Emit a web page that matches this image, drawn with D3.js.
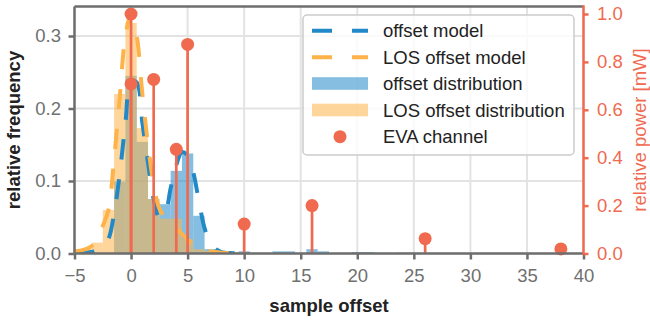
<!DOCTYPE html>
<html><head><meta charset="utf-8">
<script src="https://cdn.jsdelivr.net/npm/d3@7"></script>
<style>body{margin:0;background:#fff} svg{display:block;font-family:"Liberation Sans",Arial,sans-serif}</style>
</head><body><svg id="c" width="650" height="320"></svg>
<script>
// ---- data ----
const xTicks = [-5,0,5,10,15,20,25,30,35,40];
const yTicksLeft = [0,0.1,0.2,0.3];
const yTicksRight = [0,0.2,0.4,0.6,0.8,1.0];

const offsetBins = [-1,0,1,2,3,4,5,6,7,8,9,10,13,14,16,17,20,21,24,25];
const offsetFreq = [0.099,0.245,0.154,0.075,0.068,0.114,0.138,0.052,0.006,0.002,0.001,0.003,0.003,0.003,0.006,0.003,0.002,0.002,0.001,0.001];
const losBins = [-5,-4,-3,-2,-1,0,1,2,3,4,5,6,7,8,9];
const losFreq = [0.006,0.006,0.015,0.06,0.22,0.318,0.173,0.075,0.048,0.048,0.02,0.006,0.004,0.003,0.002];

const modelX      = [-5,-4.5,-4,-3.5,-3,-2.5,-2,-1.5,-1,-0.5,0,0.5,1,1.5,2,2.5,3,3.5,4,4.5,5,5.5,6,6.5,7,7.5,8,9,10];
const offsetModel = [0.0002,0.0005,0.001,0.002,0.005,0.01,0.02,0.055,0.11,0.18,0.238,0.236,0.18,0.125,0.075,0.05,0.055,0.09,0.122,0.14,0.135,0.112,0.072,0.035,0.015,0.006,0.002,0.0005,0];
const losModel    = [0.003,0.004,0.006,0.01,0.019,0.038,0.06,0.13,0.215,0.3,0.33,0.3,0.22,0.15,0.095,0.062,0.05,0.043,0.035,0.027,0.019,0.012,0.007,0.004,0.003,0.002,0.001,0.0005,0];

const evaX = [0,0,2,4,5,10,16,26,38];
const evaP = [1.0,0.708,0.727,0.435,0.873,0.123,0.2,0.062,0.019];

const legendLabels = ["offset model","LOS offset model","offset distribution","LOS offset distribution","EVA channel"];

// ---- style ----
const BLUE = "#2189c7", ORANGE = "#fdb349", RED = "#f06a4f", GRAY = "#6e6e6e", GRID = "#e3e3e3";
const FS = 18.5;
const L = 74.5, R = 583.5, T = 6.5, B = 253.5;

const svg = d3.select("#c");
const x = d3.scaleLinear().domain([-5,40]).range([L,R]);
const y = d3.scaleLinear().domain([0,0.3407]).range([B,T]);
const y2 = d3.scaleLinear().domain([0,1.0313]).range([B,T]);

svg.append("defs").append("clipPath").attr("id","clip")
  .append("rect").attr("x",L).attr("y",T).attr("width",R-L).attr("height",B-T);

// grid
const g = svg.append("g");
g.selectAll(".vg").data(xTicks).join("line")
  .attr("x1",d=>x(d)).attr("x2",d=>x(d)).attr("y1",T).attr("y2",B)
  .attr("stroke",GRID).attr("stroke-width",2);
g.selectAll(".hg").data(yTicksLeft).join("line")
  .attr("x1",L).attr("x2",R).attr("y1",d=>y(d)).attr("y2",d=>y(d))
  .attr("stroke",GRID).attr("stroke-width",2);

const plot = svg.append("g").attr("clip-path","url(#clip)");
// histograms
plot.selectAll(".hb").data(offsetBins.map((c,i)=>({c,v:offsetFreq[i]}))).join("rect")
  .attr("x",d=>x(d.c-0.5)).attr("width",d=>x(d.c+0.5)-x(d.c-0.5))
  .attr("y",d=>y(d.v)).attr("height",d=>y(0)-y(d.v))
  .attr("fill",BLUE).attr("fill-opacity",0.55);
plot.selectAll(".ho").data(losBins.map((c,i)=>({c,v:losFreq[i]}))).join("rect")
  .attr("x",d=>x(d.c-0.5)).attr("width",d=>x(d.c+0.5)-x(d.c-0.5))
  .attr("y",d=>y(d.v)).attr("height",d=>y(0)-y(d.v))
  .attr("fill",ORANGE).attr("fill-opacity",0.55);

// models
const line = d3.line().x(d=>x(d[0])).y(d=>y(d[1])).curve(d3.curveCatmullRom.alpha(0.5));
plot.append("path").attr("d",line(modelX.map((v,i)=>[v,offsetModel[i]])))
  .attr("fill","none").attr("stroke",BLUE).attr("stroke-width",4).attr("stroke-dasharray","20,20");
plot.append("path").attr("d",line(modelX.map((v,i)=>[v,losModel[i]])))
  .attr("fill","none").attr("stroke",ORANGE).attr("stroke-width",4).attr("stroke-dasharray","20,20");

// axes (left / bottom / top)
const fmt1 = d3.format(".1f");
const ax = svg.append("g").attr("transform",`translate(0,${B})`)
  .call(d3.axisBottom(x).tickValues(xTicks).tickSize(6).tickPadding(9.5).tickFormat(d3.format("d")));
const ay = svg.append("g").attr("transform",`translate(${L},0)`)
  .call(d3.axisLeft(y).tickValues(yTicksLeft).tickSize(6).tickPadding(7.5).tickFormat(fmt1));
const ay2 = svg.append("g").attr("transform",`translate(${R},0)`)
  .call(d3.axisRight(y2).tickValues(yTicksRight).tickSize(5).tickPadding(8.5).tickFormat(fmt1));
[ax,ay].forEach(a=>{
  a.select(".domain").remove();
  a.selectAll(".tick line").attr("stroke",GRAY).attr("stroke-width",2.5);
  a.selectAll(".tick text").attr("fill","#707070").style("font-size",FS+"px").style("font-family",'"Liberation Sans",Arial,sans-serif');
});
ay2.select(".domain").remove();
ay2.selectAll(".tick line").attr("stroke",RED).attr("stroke-width",2.5);
ay2.selectAll(".tick text").attr("fill",RED).style("font-size",FS+"px").style("font-family",'"Liberation Sans",Arial,sans-serif');

// stems
const st = svg.append("g");
st.selectAll("line").data(evaX.map((v,i)=>({x:v,p:evaP[i]}))).join("line")
  .attr("x1",d=>x(d.x)).attr("x2",d=>x(d.x)).attr("y1",y2(0)).attr("y2",d=>y2(d.p))
  .attr("stroke",RED).attr("stroke-width",2.7);
st.selectAll("circle").data(evaX.map((v,i)=>({x:v,p:evaP[i]}))).join("circle")
  .attr("cx",d=>x(d.x)).attr("cy",d=>y2(d.p)).attr("r",6.5).attr("fill",RED);

// spines
svg.append("line").attr("x1",L).attr("x2",R).attr("y1",T).attr("y2",T).attr("stroke",GRAY).attr("stroke-width",2.5);
svg.append("line").attr("x1",L).attr("x2",R).attr("y1",B).attr("y2",B).attr("stroke",GRAY).attr("stroke-width",2.5);
svg.append("line").attr("x1",L).attr("x2",L).attr("y1",T).attr("y2",B).attr("stroke",GRAY).attr("stroke-width",2.5);
svg.append("line").attr("x1",R).attr("x2",R).attr("y1",T-1.25).attr("y2",B+1.25).attr("stroke",RED).attr("stroke-width",2.5);

// axis labels
svg.append("text").attr("x",(L+R)/2).attr("y",312).attr("text-anchor","middle")
  .attr("font-weight","bold").attr("font-size",FS).attr("fill","#222").text("sample offset");
svg.append("text").attr("transform",`translate(20,${(T+B)/2}) rotate(-90)`).attr("text-anchor","middle")
  .attr("font-weight","bold").attr("font-size",FS).attr("fill","#222").text("relative frequency");
svg.append("text").attr("transform",`translate(646,${(T+B)/2}) rotate(-90)`).attr("text-anchor","middle")
  .attr("font-size",FS).attr("fill",RED).text("relative power [mW]");

// legend
const lg = svg.append("g");
lg.append("rect").attr("x",303).attr("y",15).attr("width",271).attr("height",140).attr("rx",4)
  .attr("fill","#fff").attr("fill-opacity",0.8).attr("stroke","#cccccc").attr("stroke-width",1.5);
const rows = [30.7,57.3,83.5,110,136.7];
lg.append("line").attr("x1",312).attr("x2",368).attr("y1",rows[0]).attr("y2",rows[0])
  .attr("stroke",BLUE).attr("stroke-width",4).attr("stroke-dasharray","20,20");
lg.append("line").attr("x1",312).attr("x2",368).attr("y1",rows[1]).attr("y2",rows[1])
  .attr("stroke",ORANGE).attr("stroke-width",4).attr("stroke-dasharray","20,20");
lg.append("rect").attr("x",312).attr("y",rows[2]-6.3).attr("width",56).attr("height",12.6)
  .attr("fill",BLUE).attr("fill-opacity",0.55);
lg.append("rect").attr("x",312).attr("y",rows[3]-6.3).attr("width",56).attr("height",12.6)
  .attr("fill",ORANGE).attr("fill-opacity",0.55);
lg.append("circle").attr("cx",340).attr("cy",rows[4]).attr("r",6.5).attr("fill",RED);
lg.selectAll("text").data(legendLabels).join("text")
  .attr("x",383).attr("y",(d,i)=>rows[i]+6.6).attr("font-size",FS).attr("fill","#222").text(d=>d);
</script></body></html>
